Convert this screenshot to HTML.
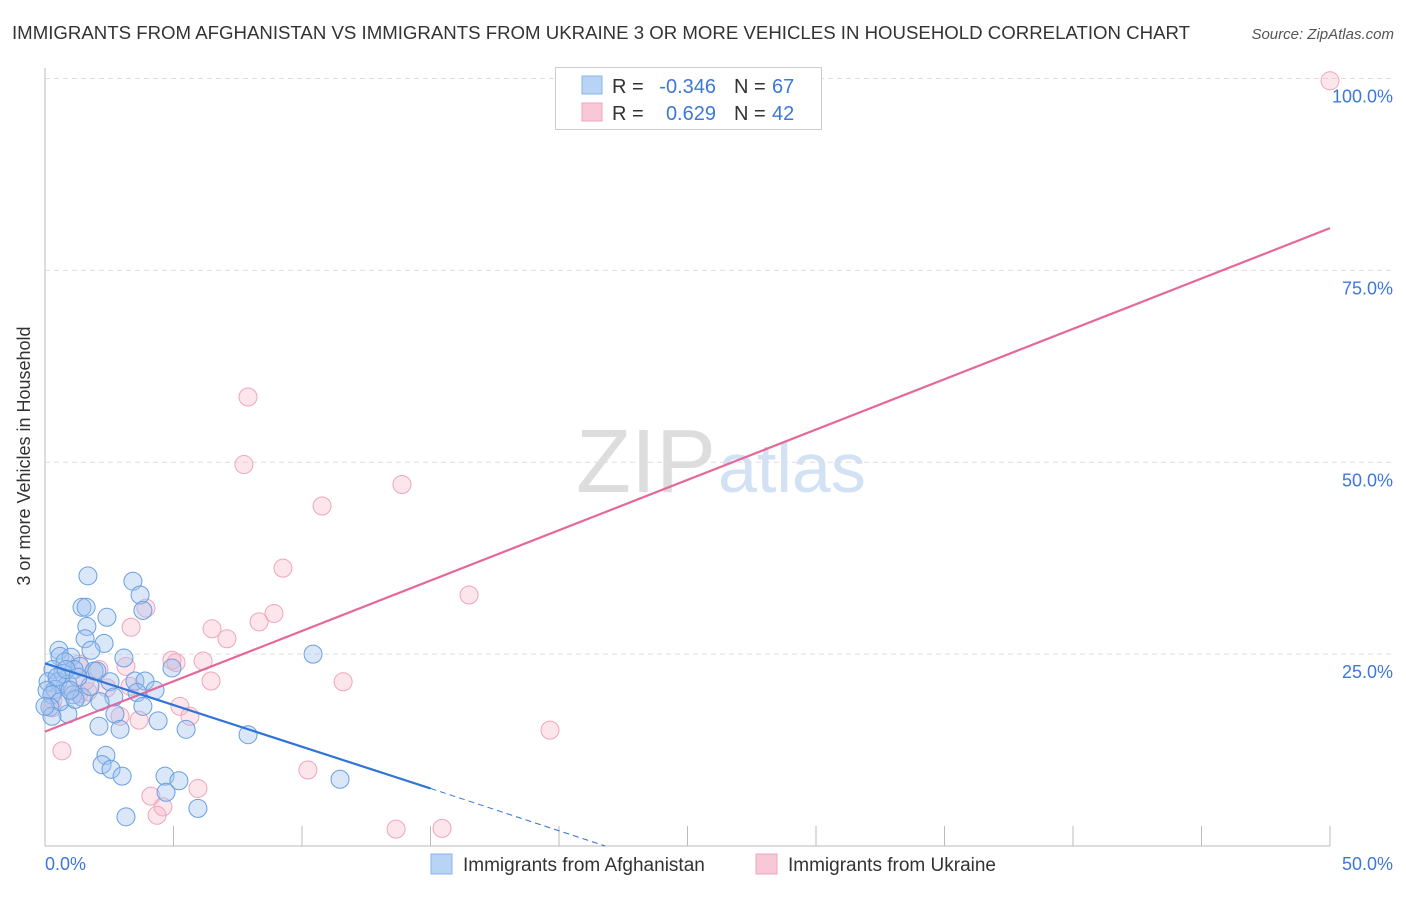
<!DOCTYPE html>
<html><head><meta charset="utf-8"><style>
body{margin:0;background:#fff;font-family:"Liberation Sans",sans-serif}
svg text{font-family:"Liberation Sans",sans-serif}
</style></head><body>
<svg id="chart" width="1406" height="892">
<text x="12" y="39" font-size="18" fill="#333" textLength="1178" lengthAdjust="spacingAndGlyphs">IMMIGRANTS FROM AFGHANISTAN VS IMMIGRANTS FROM UKRAINE 3 OR MORE VEHICLES IN HOUSEHOLD CORRELATION CHART</text>
<text x="1394" y="39" font-size="15" fill="#555" font-style="italic" text-anchor="end">Source: ZipAtlas.com</text>
<text x="30" y="456" font-size="18" fill="#333" transform="rotate(-90 30 456)" text-anchor="middle">3 or more Vehicles in Household</text>
<text x="716" y="492" font-size="90" fill="#ddd" text-anchor="end" font-family="Liberation Serif">ZIP</text>
<text x="718" y="492" font-size="70" fill="#d2e1f3">atlas</text>
<g id="grid"></g><g id="pts"></g><g id="lines"></g>
<g>
<rect x="555.5" y="67.5" width="266" height="62" fill="#fff" stroke="#ccc"/>
<rect x="582" y="76" width="20" height="18" fill="#b8d4f5" stroke="#8ab4e8"/>
<rect x="582" y="103" width="20" height="18" fill="#f9c8d6" stroke="#eea5bb"/>
<text x="612" y="93" font-size="20" fill="#333">R =</text><text x="716" y="93" font-size="20" fill="#3d78d8" text-anchor="end">-0.346</text>
<text x="734" y="93" font-size="20" fill="#333">N =</text><text x="772" y="93" font-size="20" fill="#3d78d8">67</text>
<text x="612" y="120" font-size="20" fill="#333">R =</text><text x="716" y="120" font-size="20" fill="#3d78d8" text-anchor="end">0.629</text>
<text x="734" y="120" font-size="20" fill="#333">N =</text><text x="772" y="120" font-size="20" fill="#3d78d8">42</text>
</g>
<g>
<rect x="431" y="854" width="21" height="20" fill="#b8d4f5" stroke="#8ab4e8"/>
<text x="463" y="871" font-size="19" fill="#333">Immigrants from Afghanistan</text>
<rect x="756" y="854" width="21" height="20" fill="#f9c8d6" stroke="#eea5bb"/>
<text x="788" y="871" font-size="19" fill="#333">Immigrants from Ukraine</text>
</g>
</svg>
<script>
const xTicks=[0,5,10,15,20,25,30,35,40,45,50];
const yTicks=[25,50,75,100];
const afgX=[1.67,3.42,3.70,1.44,1.60,3.81,2.41,1.63,1.56,2.30,0.54,1.79,0.58,1.01,3.07,10.43,0.78,1.36,1.91,4.94,0.31,1.13,2.02,0.70,2.53,3.50,3.89,0.12,0.51,0.89,0.39,4.28,3.58,0.08,1.09,1.44,2.68,0.89,3.81,2.72,4.40,2.10,5.49,2.92,7.90,2.37,2.22,2.57,3.00,4.67,5.21,11.48,4.71,5.95,3.15,0.27,0.58,0.19,0.47,1.75,1.17,2.14,0.82,1.28,0.27,0.0,0.97];
const afgY=[35.2,34.5,32.7,31.1,31.1,30.7,29.8,28.6,27.0,26.4,25.5,25.5,24.7,24.6,24.5,25.0,24.0,23.4,22.8,23.2,23.0,23.0,22.8,22.5,21.4,21.5,21.5,21.4,21.4,21.1,20.4,20.3,20.0,20.3,19.7,19.4,19.4,17.2,18.2,17.2,16.3,15.6,15.2,15.2,14.5,11.8,10.6,10.0,9.1,9.1,8.5,8.7,7.0,4.9,3.8,19.7,18.8,18.1,22.0,20.8,19.1,18.8,23.0,22.0,16.9,18.2,20.3];
const ukrX=[50.0,7.90,7.74,13.89,10.78,9.26,16.50,3.93,3.35,6.50,7.08,8.33,8.91,4.94,5.10,6.15,3.15,6.46,11.60,2.10,1.32,3.31,2.41,0.97,1.32,1.67,0.31,0.27,5.25,5.64,3.66,2.92,0.66,10.23,19.65,5.95,4.12,4.59,4.36,13.66,15.45,1.56];
const ukrY=[99.7,58.5,49.7,47.1,44.3,36.2,32.7,31.0,28.5,28.3,27.0,29.2,30.3,24.2,23.9,24.1,23.4,21.5,21.4,23.0,23.7,20.8,20.6,20.3,19.8,20.1,19.0,18.0,18.2,16.9,16.4,16.9,12.4,9.9,15.1,7.5,6.5,5.1,4.0,2.2,2.3,21.5];
const X0=45,X1=1330,Y0=846,Y100=78.5;
const sx=v=>X0+(X1-X0)*v/50, sy=v=>Y0-(Y0-Y100)*v/100;
const NS="http://www.w3.org/2000/svg";
function mk(tag,attrs,parent){const e=document.createElementNS(NS,tag);for(const k in attrs)e.setAttribute(k,attrs[k]);parent.appendChild(e);return e;}
const grid=document.getElementById('grid');
for(const t of yTicks){
 const l=mk('line',{x1:X0,x2:1395,y1:sy(t),y2:sy(t),stroke:'#ddd','stroke-dasharray':'5,4'},grid);
 
 
 const tx=mk('text',{x:1393,y:sy(t)+24,'font-size':18,fill:'#3d78d8','text-anchor':'end'},grid);
 tx.textContent=t.toFixed(1)+'%';
 
 
}
const ax=mk('line',{x1:X0,x2:X0,y1:68,y2:Y0,stroke:'#bbb'},grid);


const bx=mk('line',{x1:X0,x2:X1,y1:Y0,y2:Y0,stroke:'#bbb'},grid);


for(const t of xTicks){
 const l=mk('line',{x1:sx(t),x2:sx(t),y1:826,y2:Y0,stroke:'#bbb'},grid);
 
 
}
const xl=[[0,'0.0%','start',45],[50,'50.0%','end',1393]];
for(const [v,s,a,px] of xl){
 const tx=mk('text',{x:px,y:870,'font-size':18,fill:'#3d78d8','text-anchor':a},grid);
 tx.textContent=s;
 
 
}
const pts=document.getElementById('pts');
ukrX.forEach((v,i)=>{const c=mk('circle',{cx:sx(v),cy:sy(ukrY[i]),r:9,fill:'rgba(248,180,200,0.35)',stroke:'#eea5bb','stroke-width':1},pts);
 
 });
afgX.forEach((v,i)=>{const c=mk('circle',{cx:sx(v),cy:sy(afgY[i]),r:9,fill:'rgba(160,196,240,0.4)',stroke:'#6a9fe0','stroke-width':1},pts);
 
 });
const lines=document.getElementById('lines');
const pl=mk('line',{x1:sx(0),y1:sy(14.9),x2:sx(50),y2:sy(80.5),stroke:'#e5689a','stroke-width':2.2},lines);


const bl=mk('line',{x1:sx(0),y1:sy(23.8),x2:sx(15),y2:sy(7.5),stroke:'#2f74d6','stroke-width':2.2},lines);


const bd=mk('line',{x1:sx(15),y1:sy(7.5),x2:sx(21.8),y2:sy(0),stroke:'#2f74d6','stroke-width':1,'stroke-dasharray':'6,4'},lines);


</script>
</body></html>
